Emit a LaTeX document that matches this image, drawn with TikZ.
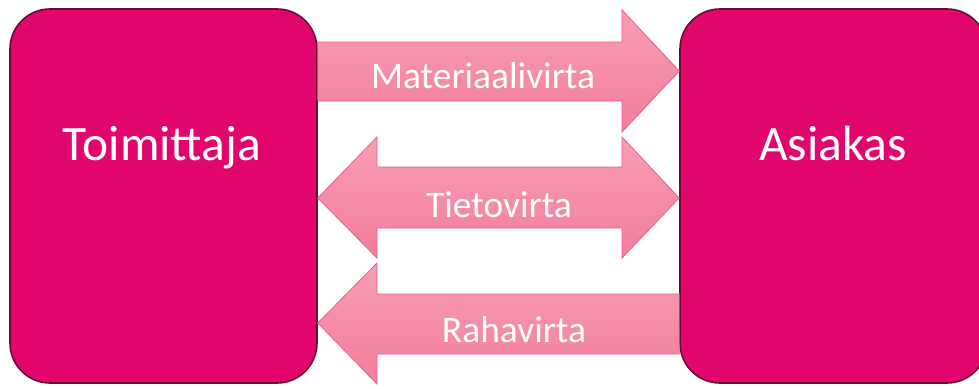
\documentclass[tikz,border=0pt]{standalone}
\usepackage{fontspec}
\setmainfont{Carlito}
\usetikzlibrary{calc}
\definecolor{boxfill}{HTML}{E2066C}
\definecolor{boxline}{HTML}{6A0A35}
\definecolor{arrtop}{HTML}{F99DB4}
\definecolor{arrbot}{HTML}{F27E9C}
\definecolor{arrline}{HTML}{EE5B93}
\begin{document}
\begin{tikzpicture}[x=1pt,y=-1pt,
  box/.style={draw=boxline, line width=1.6pt, fill=boxfill, rounded corners=40pt,
    minimum width=307pt, minimum height=374pt, inner sep=0pt},
  boxtext/.style={text=white, anchor=base, inner sep=0pt, font=\fontsize{49.5}{58}\selectfont},
  flow/.style={draw=arrline, line width=0.8pt, top color=arrtop, bottom color=arrbot},
  flowtext/.style={text=white, anchor=base, inner sep=0pt, font=\fontsize{37.5}{44}\selectfont}]
\useasboundingbox[fill=white] (0,0) rectangle (979,388);
\node[box] (toim) at (163.5,196) {};
\node[box] (asi) at (833.5,196) {};
\node[boxtext] (toimt) at (162,160) {Toimittaja};
\node[boxtext] (asit) at (833,160) {Asiakas};
% Materiaalivirta
\path[flow] (toim.east|-0,42) -- (622,42) -- (622,10) -- (asi.west|-0,71) -- (622,132) -- (622,101) -- (toim.east|-0,101) -- cycle;
\node[flowtext] (mat) at (483,88) {Materiaalivirta};
% Tietovirta
\path[flow] (toim.east|-0,198) -- (377,137) -- (377,167) -- (622,167) -- (622,137) -- (asi.west|-0,198) -- (622,258) -- (622,228) -- (377,228) -- (377,258) -- cycle;
\node[flowtext] (tie) at (499,217) {Tietovirta};
% Rahavirta
\path[flow] (toim.east|-0,323) -- (377,263) -- (377,294) -- (asi.west|-0,294) -- (asi.west|-0,354) -- (377,354) -- (377,384) -- cycle;
\node[flowtext] (raha) at (514,342) {Rahavirta};
\end{tikzpicture}
\end{document}
